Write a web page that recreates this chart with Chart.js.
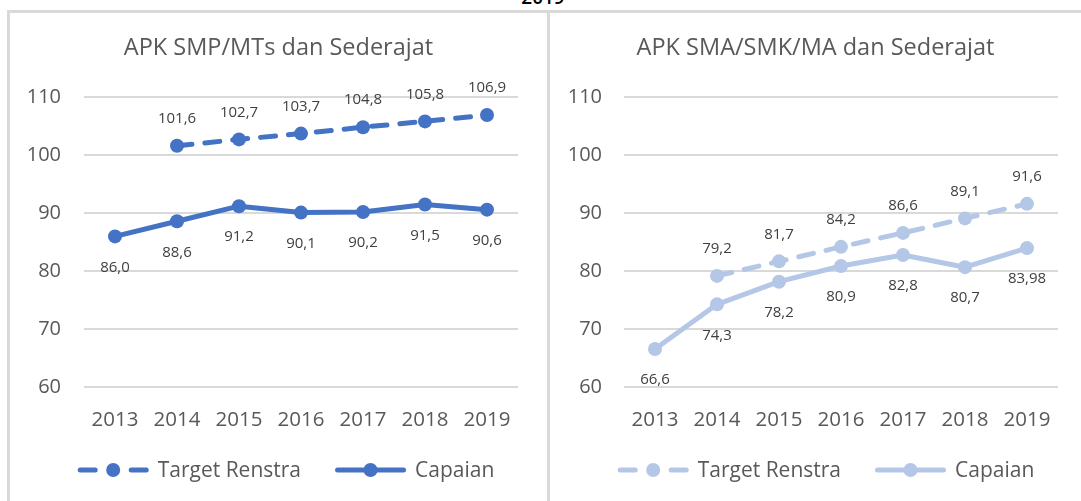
<!DOCTYPE html>
<html>
<head>
<meta charset="utf-8">
<script src="https://cdn.jsdelivr.net/npm/chart.js@4.4.1/dist/chart.umd.min.js"></script>
<style>
  html, body { margin: 0; padding: 0; background: #ffffff; overflow: hidden; }
  body { width: 1081px; height: 501px; position: relative; font-family: "Open Sans", sans-serif; }
  .frame { position: absolute; background: #d9d9d9; }
  .box { position: absolute; }
  #topText { position: absolute; top: -16px; left: 0; width: 1086px; text-align: center;
             font: 600 19px "Open Sans", sans-serif; color: #000; }
</style>
</head>
<body>
<div id="topText">2019</div>
<div class="frame" style="left:7px; top:10px; width:1074px; height:3px;"></div>
<div class="frame" style="left:7px; top:10px; width:3px; height:491px;"></div>
<div class="frame" style="left:547px; top:10px; width:3px; height:491px;"></div>
<div class="box" style="left:10px; top:13px; width:537px; height:488px;"><canvas id="c1"></canvas></div>
<div class="box" style="left:550px; top:13px; width:531px; height:488px;"><canvas id="c2"></canvas></div>
<script>
// ---------- data ----------
const years = ["2013", "2014", "2015", "2016", "2017", "2018", "2019"];
const seriesNames = ["Target Renstra", "Capaian"];

const smpTitle = "APK SMP/MTs dan Sederajat";
const smpTarget = [null, 101.6, 102.7, 103.7, 104.8, 105.8, 106.9];
const smpCapaian = [86.0, 88.6, 91.2, 90.1, 90.2, 91.5, 90.6];

const smaTitle = "APK SMA/SMK/MA dan Sederajat";
const smaTarget = [null, 79.2, 81.7, 84.2, 86.6, 89.1, 91.6];
const smaCapaian = [66.6, 74.3, 78.2, 80.9, 82.8, 80.7, 83.98];

const yMin = 60, yMax = 110, yStep = 10;

// ---------- styles ----------
const FONT = "'Open Sans', sans-serif";
const TEXT_COLOR = "#595959";
const LABEL_COLOR = "#404040";
const GRID_COLOR = "#d9d9d9";

function fmt(v) {
  const s = Number.isInteger(Math.round(v * 100) / 10) ? v.toFixed(1) : v.toFixed(2);
  return s.replace(".", ",");
}

const labelsPlugin = {
  id: "pointLabels",
  afterDatasetsDraw(chart) {
    const ctx = chart.ctx;
    ctx.save();
    ctx.font = "15px " + FONT;
    ctx.fillStyle = LABEL_COLOR;
    ctx.textAlign = "center";
    ctx.textBaseline = "middle";
    chart.data.datasets.forEach((ds, i) => {
      const meta = chart.getDatasetMeta(i);
      meta.data.forEach((pt, j) => {
        const v = ds.data[j];
        if (v === null || v === undefined) return;
        ctx.fillText(fmt(v), pt.x, pt.y + ds.labelOffset);
      });
    });
    ctx.restore();
  }
};

const titlePlugin = {
  id: "centeredTitle",
  afterDraw(chart, args, opts) {
    const ctx = chart.ctx;
    ctx.save();
    ctx.font = "23.5px " + FONT;
    ctx.fillStyle = TEXT_COLOR;
    ctx.textAlign = "center";
    ctx.textBaseline = "middle";
    ctx.fillText(opts.text, chart.width / 2, 35);
    ctx.restore();
  }
};

const legendPlugin = {
  id: "lineLegend",
  afterDraw(chart) {
    const ctx = chart.ctx;
    const y = 457;
    const sampleW = 66, cap = 2.5, textGap = 9, itemGap = 34;
    ctx.save();
    ctx.font = "21px " + FONT;
    const items = chart.data.datasets.map(ds => ({ ds, w: cap * 2 + sampleW + textGap + ctx.measureText(ds.label).width }));
    const total = items.reduce((a, it) => a + it.w, 0) + itemGap * (items.length - 1);
    let x = 276 - total / 2;
    items.forEach(it => {
      const ds = it.ds;
      const x0 = x + cap, x1 = x0 + sampleW;
      ctx.strokeStyle = ds.borderColor;
      ctx.lineWidth = ds.borderWidth;
      ctx.lineCap = "round";
      ctx.setLineDash(ds.borderDash && ds.borderDash.length ? [15, 36] : []);
      ctx.beginPath();
      ctx.moveTo(x0, y);
      ctx.lineTo(x1, y);
      ctx.stroke();
      ctx.setLineDash([]);
      ctx.fillStyle = ds.pointBackgroundColor;
      ctx.beginPath();
      ctx.arc((x0 + x1) / 2, y, ds.pointRadius, 0, Math.PI * 2);
      ctx.fill();
      ctx.fillStyle = TEXT_COLOR;
      ctx.textAlign = "left";
      ctx.textBaseline = "middle";
      ctx.fillText(ds.label, x1 + cap + textGap, y + 1);
      x += it.w + itemGap;
    });
    ctx.restore();
  }
};

function makeChart(id, title, target, capaian, color, yWidth, yPad, rightPad) {
  const mk = (label, data, dashed, off) => ({
    label, data,
    borderColor: color,
    backgroundColor: color,
    pointBackgroundColor: color,
    pointBorderColor: color,
    borderWidth: 5,
    borderDash: dashed ? [15, 13] : [],
    borderCapStyle: "round",
    borderJoinStyle: "round",
    pointRadius: 7,
    pointHoverRadius: 7,
    pointBorderWidth: 0,
    tension: 0,
    spanGaps: false,
    fill: false,
    labelOffset: off
  });
  return new Chart(document.getElementById(id), {
    type: "line",
    data: {
      labels: years,
      datasets: [
        mk(seriesNames[0], target, true, -27),
        mk(seriesNames[1], capaian, false, 31)
      ]
    },
    options: {
      responsive: true,
      maintainAspectRatio: false,
      animation: false,
      events: [],
      layout: { padding: { top: 84, left: 0, right: rightPad, bottom: 49 } },
      plugins: {
        legend: { display: false },
        tooltip: { enabled: false },
        title: { display: false },
        centeredTitle: { text: title }
      },
      scales: {
        x: {
          offset: true,
          grid: { display: false, drawTicks: false },
          border: { display: false },
          ticks: { color: TEXT_COLOR, font: { family: FONT, size: 20.5 }, padding: 20, maxRotation: 0 }
        },
        y: {
          min: yMin, max: yMax,
          grid: { color: GRID_COLOR, lineWidth: 2, drawTicks: false },
          border: { display: false },
          ticks: { stepSize: yStep, color: TEXT_COLOR, font: { family: FONT, size: 20 }, padding: yPad },
          afterFit(scale) { scale.width = yWidth; }
        }
      }
    },
    plugins: [labelsPlugin, titlePlugin, legendPlugin]
  });
}

makeChart("c1", smpTitle, smpTarget, smpCapaian, "#4472C4", 74, 23, 29);
makeChart("c2", smaTitle, smaTarget, smaCapaian, "#B4C7E7", 74, 22, 23);
</script>
</body>
</html>
